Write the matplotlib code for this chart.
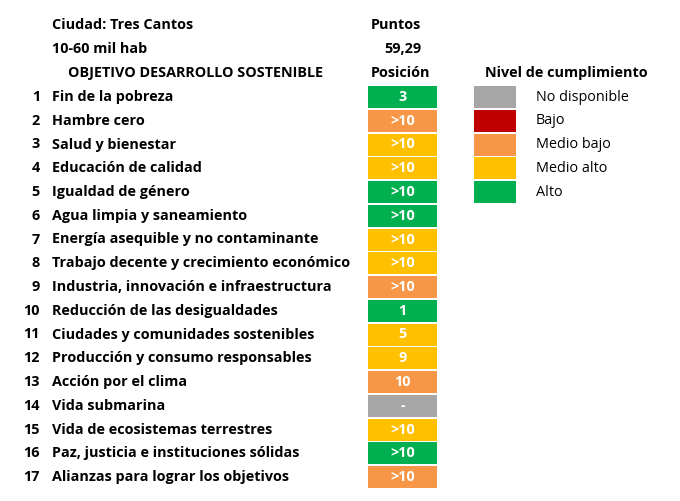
import matplotlib
matplotlib.use("Agg")
import matplotlib.pyplot as plt
from matplotlib.patches import Rectangle

objetivos = ["Fin de la pobreza","Hambre cero","Salud y bienestar","Educación de calidad",
 "Igualdad de género","Agua limpia y saneamiento","Energía asequible y no contaminante",
 "Trabajo decente y crecimiento económico","Industria, innovación e infraestructura",
 "Reducción de las desigualdades","Ciudades y comunidades sostenibles",
 "Producción y consumo responsables","Acción por el clima","Vida submarina",
 "Vida de ecosistemas terrestres","Paz, justicia e instituciones sólidas",
 "Alianzas para lograr los objetivos"]
posiciones = ["3",">10",">10",">10",">10",">10",">10",">10",">10","1","5","9","10","-",">10",">10",">10"]
niveles = ["Alto","Medio bajo","Medio alto","Medio alto","Alto","Alto","Medio alto","Medio alto",
 "Medio bajo","Alto","Medio alto","Medio alto","Medio bajo","No disponible","Medio alto","Alto","Medio bajo"]
leyenda = ["No disponible","Bajo","Medio bajo","Medio alto","Alto"]
colores = {"No disponible":"#A6A6A6","Bajo":"#C00000","Medio bajo":"#F79646",
           "Medio alto":"#FFC000","Alto":"#00B050"}

W,H = 680,501
fig = plt.figure(figsize=(W/100,H/100), dpi=100)
ax = fig.add_axes([0,0,1,1])
ax.set_xlim(0,W); ax.set_ylim(H,0); ax.axis("off")
fs = 10.4
kw = dict(fontsize=fs, fontweight="bold", family="Open Sans", va="center", color="black")

ax.text(52,25,"Ciudad: Tres Cantos",ha="left",**kw)
ax.text(396,25,"Puntos",ha="center",**kw)
ax.text(52,49,"10-60 mil hab",ha="left",**kw)
ax.text(421,49,"59,29",ha="right",**kw)
ax.text(196,73,"OBJETIVO DESARROLLO SOSTENIBLE",ha="center",**kw)
ax.text(401,73,"Posición",ha="center",**kw)
ax.text(566,73,"Nivel de cumplimiento",ha="center",**kw)

y0, dy = 97, 23.75
for i,(o,p,n) in enumerate(zip(objetivos,posiciones,niveles)):
    y = y0 + i*dy
    ax.text(40,y,str(i+1),ha="right",**kw)
    ax.text(52,y,o,ha="left",**kw)
    ax.add_patch(Rectangle((368,y-11),69,22,color=colores[n],lw=0))
    k = dict(kw); k["color"]="white"
    ax.text(402.5,y,p,ha="center",**k)
for i,l in enumerate(leyenda):
    y = y0 + i*dy
    ax.add_patch(Rectangle((474,y-11),42,22,color=colores[l],lw=0))
    k = dict(kw); k["fontweight"]="normal"
    ax.text(536,y,l,ha="left",**k)

fig.savefig("out.png",dpi=100)
